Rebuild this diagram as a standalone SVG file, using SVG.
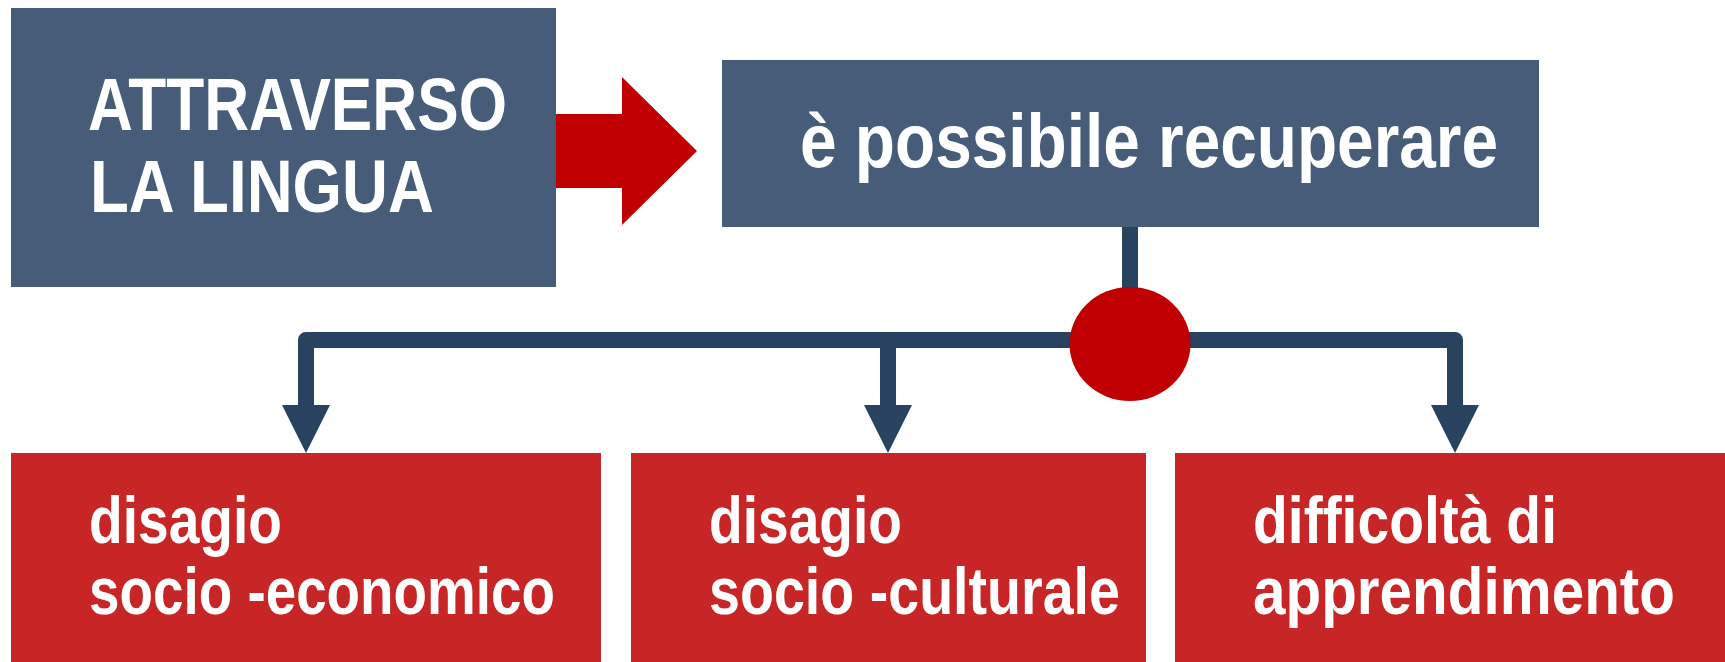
<svg xmlns="http://www.w3.org/2000/svg" width="1725" height="662" viewBox="0 0 1725 662">
<style>
.blue{fill:#465C78}
.red{fill:#C82526}
.t{font-family:"Liberation Sans",Arial,sans-serif;font-weight:bold;fill:#FFFFFF}
.conn{fill:none;stroke:#284260;stroke-width:16;stroke-linejoin:round}
.head{fill:#284260}
</style>
<g id="connectors">
<path class="conn" d="M1130,227 V300"/>
<path class="conn" d="M306,405 V340 H1455 V405"/>
<path class="conn" d="M888,340 V405"/>
<polygon class="head" points="282,405 330,405 306,453"/>
<polygon class="head" points="864,405 912,405 888,453"/>
<polygon class="head" points="1431,405 1479,405 1455,453"/>
<polygon fill="#C00000" points="556,114 622,114 622,77 697,151 622,225 622,188 556,188"/>
</g>
<g id="node-attraverso">
<rect class="blue" x="11" y="8" width="545" height="279"/>
<text class="t" font-size="74" x="88" y="130" textLength="419" lengthAdjust="spacingAndGlyphs">ATTRAVERSO</text>
<text class="t" font-size="74" x="90" y="212" textLength="344" lengthAdjust="spacingAndGlyphs">LA LINGUA</text>
</g>
<g id="node-possibile">
<rect class="blue" x="722" y="60" width="817" height="167"/>
<text class="t" font-size="76" x="800" y="167" textLength="698" lengthAdjust="spacingAndGlyphs">è possibile recuperare</text>
</g>
<g id="node-junction">
<ellipse cx="1130" cy="344" rx="60.5" ry="57" fill="#C00000"/>
</g>
<g id="node-economico">
<rect class="red" x="11" y="453" width="590" height="209"/>
<text class="t" font-size="66" x="89" y="543" textLength="193" lengthAdjust="spacingAndGlyphs">disagio</text>
<text class="t" font-size="66" x="89" y="614" textLength="466" lengthAdjust="spacingAndGlyphs">socio -economico</text>
</g>
<g id="node-culturale">
<rect class="red" x="631" y="453" width="515" height="209"/>
<text class="t" font-size="66" x="709" y="543" textLength="193" lengthAdjust="spacingAndGlyphs">disagio</text>
<text class="t" font-size="66" x="709" y="614" textLength="411" lengthAdjust="spacingAndGlyphs">socio -culturale</text>
</g>
<g id="node-apprendimento">
<rect class="red" x="1175" y="453" width="550" height="209"/>
<text class="t" font-size="66" x="1253" y="543" textLength="304" lengthAdjust="spacingAndGlyphs">difficoltà di</text>
<text class="t" font-size="66" x="1253" y="614" textLength="422" lengthAdjust="spacingAndGlyphs">apprendimento</text>
</g>
</svg>
